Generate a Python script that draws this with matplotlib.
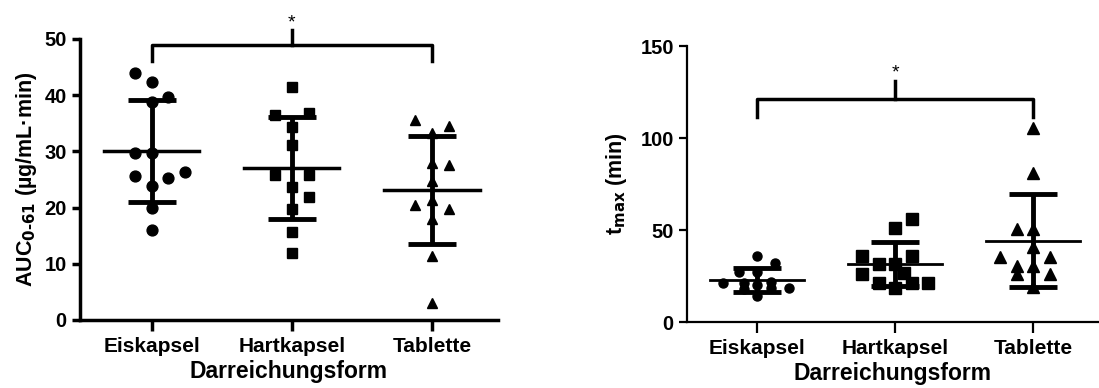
import numpy as np
import matplotlib.pyplot as plt

plt.rcParams["font.family"] = ["Liberation Sans", "DejaVu Sans"]
plt.rcParams["font.weight"] = "bold"
plt.rcParams["axes.labelweight"] = "bold"

groups = ["Eiskapsel", "Hartkapsel", "Tablette"]
markers = ["o", "s", "^"]

# AUC 0-61 (µg/mL·min)
auc_eis = [44.0, 42.3, 39.6, 38.7, 29.8, 29.8, 25.7, 23.9, 25.2, 26.4, 20.0, 16.1]
auc_hart = [41.5, 36.4, 36.8, 34.3, 31.1, 25.8, 25.8, 23.6, 21.9, 19.8, 15.6, 11.9]
auc_tab = [35.6, 34.5, 33.2, 27.9, 27.5, 24.7, 21.4, 20.5, 19.8, 18.0, 11.3, 3.1]

# tmax (min)
tmax_eis = [36.0, 32.0, 27.0, 27.0, 21.0, 18.5, 18.5, 14.0, 21.0, 20.0, 18.0, 22.0]
tmax_hart = [56.0, 51.0, 36.0, 36.0, 31.5, 31.5, 26.0, 26.6, 21.0, 21.0, 21.0, 18.5]
tmax_tab = [105.5, 81.0, 50.5, 50.5, 41.0, 35.5, 35.5, 30.5, 30.5, 26.0, 26.0, 19.0]

# horizontal spread of the points inside each column
jit_auc = [
    [-0.12, 0, 0.12, 0, -0.12, 0, -0.12, 0, 0.12, 0.24, 0, 0],
    [0, -0.12, 0.12, 0, 0, -0.12, 0.12, 0, 0.12, 0, 0, 0],
    [-0.12, 0.12, 0, 0, 0.12, 0, 0, -0.12, 0.12, 0, 0, 0],
]
jit_tmax = [
    [0, 0.13, -0.13, 0, -0.25, 0.23, 0.1, 0, -0.1, 0, -0.1, 0.1],
    [0.12, 0, -0.24, 0.12, -0.12, 0, -0.24, 0.06, -0.12, 0.12, 0.24, 0],
    [0, 0, -0.12, 0, 0, -0.24, 0.12, -0.12, 0, -0.12, 0.12, 0],
]


def scatter_panel(ax, data, jitter, msizes, mean_lw, spine_lw):
    for i, (vals, jit) in enumerate(zip(data, jitter)):
        vals = np.asarray(vals)
        x = i + 1 + np.asarray(jit)
        ax.plot(x, vals, linestyle="none", marker=markers[i], color="black",
                markersize=msizes[i], clip_on=False, zorder=3)
        m = vals.mean()
        s = vals.std(ddof=1)
        ax.plot([i + 1 - 0.34, i + 1 + 0.34], [m, m], color="black", lw=mean_lw, zorder=4)
        ax.errorbar(i + 1, m, yerr=s, fmt="none", ecolor="black", elinewidth=3.5,
                    capsize=17, capthick=3.5, zorder=4)
    ax.set_xlim(0.49, 3.47)
    ax.set_xticks([1, 2, 3])
    ax.set_xticklabels(groups)
    ax.spines["top"].set_visible(False)
    ax.spines["right"].set_visible(False)
    ax.spines["left"].set_linewidth(spine_lw)
    ax.spines["bottom"].set_linewidth(spine_lw)
    ax.tick_params(axis="both", labelsize=14.5, width=spine_lw, length=6, color="black")
    ax.tick_params(axis="x", labelsize=15, length=8, pad=4)
    ax.set_xlabel("Darreichungsform", fontsize=16.5, labelpad=3)


fig = plt.figure(figsize=(10.99, 3.88), dpi=100)

ax1 = fig.add_axes([0.0728, 0.1753, 0.3802, 0.7242])
scatter_panel(ax1, [auc_eis, auc_hart, auc_tab], jit_auc, [7.8, 7.5, 7.8], 2.5, 2.5)
ax1.set_ylim(0, 50)
ax1.set_yticks([0, 10, 20, 30, 40, 50])
ax1.set_ylabel("AUC$_{\\mathbf{0\\text{-}61}}$ (µg/mL·min)", fontsize=15.5, labelpad=4)
ax1.plot([1, 1, 3, 3], [46.0, 48.9, 48.9, 46.0], color="black", lw=2.5, clip_on=False)
ax1.plot([2, 2], [48.9, 51.6], color="black", lw=2.5, clip_on=False)
ax1.text(2, 51.4, "*", ha="center", va="bottom", fontsize=14, fontweight="normal")

ax2 = fig.add_axes([0.6251, 0.1701, 0.374, 0.7113])
scatter_panel(ax2, [tmax_eis, tmax_hart, tmax_tab], jit_tmax, [6.5, 8.0, 8.0], 2.0, 1.6)
ax2.set_ylim(0, 150)
ax2.set_yticks([0, 50, 100, 150])
ax2.set_ylabel("t$_{\\mathbf{max}}$ (min)", fontsize=15.5, labelpad=8)
ax2.plot([1, 1, 3, 3], [111.6, 121.2, 121.2, 111.6], color="black", lw=2.5)
ax2.plot([2, 2], [121.2, 131.0], color="black", lw=2.5)
ax2.text(2, 130.5, "*", ha="center", va="bottom", fontsize=14, fontweight="normal")

fig.savefig("out.png", dpi=100)
